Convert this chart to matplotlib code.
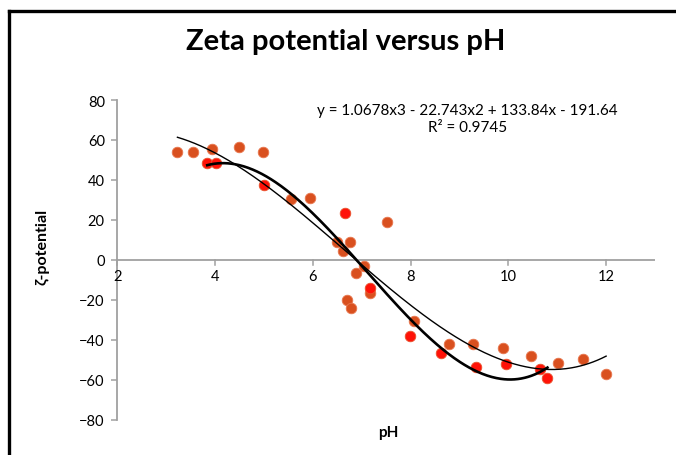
import numpy as np
import matplotlib
matplotlib.use("Agg")
import matplotlib.pyplot as plt
from matplotlib.lines import Line2D

# Data
orange_ph = [3.23, 3.54, 3.94, 4.49, 4.99, 5.56, 5.94, 6.50, 6.61, 6.70, 6.76, 6.78,
             6.89, 7.04, 7.16, 7.51, 8.06, 8.78, 9.28, 9.89, 10.47, 11.02, 11.53, 12.0]
orange_zeta = [54, 54, 55.5, 56.7, 54.2, 30.7, 31.2, 8.8, 4.5, -19.8, 9.2, -24,
               -6.3, -3, -16.3, 19, -30.3, -41.8, -42.2, -44, -47.8, -51.3, -49.7, -57]
red_ph = [3.84, 4.02, 5.01, 6.65, 7.16, 7.99, 8.62, 9.33, 9.95, 10.65, 10.80]
red_zeta = [48.5, 48.5, 37.3, 23.7, -14, -38, -46.5, -53.7, -52.2, -54.3, -58.8]

# Trendline coefficients shown on the chart
trend_coef = [1.0678, -22.743, 133.84, -191.64]
equation_text = "y = 1.0678x3 - 22.743x2 + 133.84x - 191.64"
r2_text = "R² = 0.9745"

title = "Zeta potential versus pH"
xlabel = "pH"
ylabel = "ζ-potential"
xticks = [2, 4, 6, 8, 10, 12]
yticks = [-80, -60, -40, -20, 0, 20, 40, 60, 80]

plt.rcParams['font.family'] = ['Lato', 'DejaVu Sans']

fig = plt.figure(figsize=(6.76, 4.56), dpi=100)
ax = fig.add_axes([117.3 / 676, 1 - 421 / 456, (655 - 117.3) / 676, 320 / 456])

orange = '#D9501F'
red = '#FF1208'

ax.scatter(orange_ph, orange_zeta, s=58, color=orange, edgecolors='#E8774F',
           linewidths=0.6, zorder=3)
ax.scatter(red_ph, red_zeta, s=58, color=red, edgecolors='#E8552F',
           linewidths=0.6, zorder=3)

# Thin trendline: cubic fit of the orange series
thin_coef = np.polyfit(orange_ph, orange_zeta, 3)
xt = np.linspace(min(orange_ph), max(orange_ph), 300)
ax.plot(xt, np.polyval(thin_coef, xt), color='black', lw=1.0, zorder=4)

# Thick trendline: the cubic equation displayed (fit of red series)
xr = np.linspace(min(red_ph), max(red_ph), 300)
ax.plot(xr, np.polyval(trend_coef, xr), color='black', lw=1.9, zorder=4)

ax.set_xlim(2, 13)
ax.set_ylim(-80, 80)
ax.set_xticks(xticks)
ax.set_yticks(yticks)

for s in ['top', 'right', 'bottom']:
    ax.spines[s].set_visible(False)
ax.spines['left'].set_color('#A0A0A0')
ax.spines['left'].set_linewidth(1.3)
ax.spines['left'].set_position(('data', 2))
ax.axhline(0, color='#A0A0A0', lw=1.3, zorder=1)
ax.tick_params(axis='y', direction='out', length=4, width=1.1, color='#A0A0A0',
               labelsize=10.5, pad=5)
ax.tick_params(axis='x', bottom=False, labelbottom=False)
# x tick marks and labels at y=0
for xv in xticks:
    ax.plot([xv, xv], [0, -2.6], color='#A0A0A0', lw=1.1, clip_on=False, zorder=1)
    ax.text(xv, -4.5, str(xv), ha='center', va='top', fontsize=10.5)

ax.text(9.16, 75, equation_text, ha='center', va='center', fontsize=11)
ax.text(9.16, 66.5, r2_text, ha='center', va='center', fontsize=11)

fig.text(0.512, 0.908, title, ha='center', va='center', fontsize=21, fontweight='bold')
fig.text(388 / 676, 1 - 433 / 456, xlabel, ha='center', va='center', fontsize=11,
         fontweight='bold')
fig.text(42 / 676, 1 - 247 / 456, ylabel, ha='center', va='center', fontsize=11.5,
         fontweight='bold', rotation=90)

# Chart frame (left and top edges visible)
fig.add_artist(Line2D([9 / 676, 9 / 676], [0, 1 - 12 / 456], color='black', lw=2.4,
                      transform=fig.transFigure))
fig.add_artist(Line2D([9 / 676, 1], [1 - 12 / 456, 1 - 12 / 456], color='black', lw=2.4,
                      transform=fig.transFigure))

fig.savefig('out.png', dpi=100)
